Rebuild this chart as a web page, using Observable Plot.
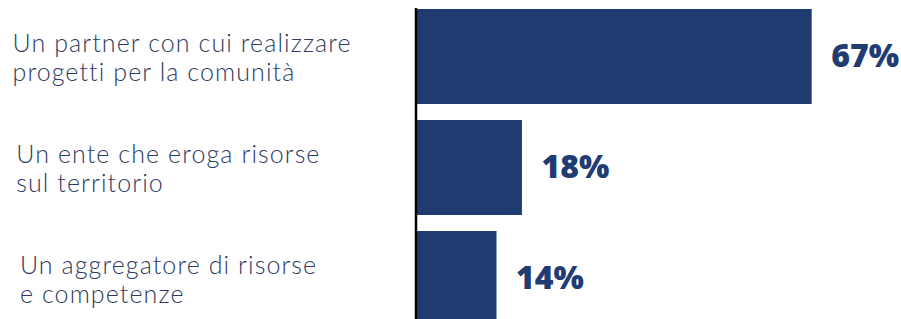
<!DOCTYPE html>
<html>
<head>
<meta charset="utf-8">
<script src="https://cdn.jsdelivr.net/npm/d3@7"></script>
<script src="https://cdn.jsdelivr.net/npm/@observablehq/plot@0.6"></script>
<style>
  html, body { margin: 0; padding: 0; background: #ffffff; }
  #chart svg { display: block; }
  #chart text { font-variant-ligatures: none; font-feature-settings: "liga" 0; }
  #chart g.cat-label text { letter-spacing: 1.1px; }
</style>
</head>
<body>
<div id="chart"></div>
<script>
const categories = [
  "Un partner con cui realizzare\nprogetti per la comunità",
  "Un ente che eroga risorse\nsul territorio",
  "Un aggregatore di risorse\ne competenze"
];
const values = [67, 18, 13.7];
const valueLabels = ["67%", "18%", "14%"];

const data = categories.map((c, i) => ({category: c, value: values[i], label: valueLabels[i]}));

const barColor = "#1f3c70";
const labelColor = "#2d3b62";

const chart = Plot.plot({
  width: 901,
  height: 319,
  marginLeft: 0,
  marginRight: 0,
  marginTop: 0,
  marginBottom: 0,
  x: {domain: [0, 67], range: [415.5, 811.7], axis: null},
  y: {domain: categories, range: [8, 327.5], paddingInner: 0.147, paddingOuter: 0, axis: null},
  marks: [
    Plot.barX(data, {x: "value", y: "category", fill: barColor, insetLeft: 1.5}),
    Plot.ruleX([0], {stroke: "#000000", strokeWidth: 2.5, insetTop: 8}),
    Plot.text(data, {
      x: "value", y: "category", text: "label",
      textAnchor: "start", dx: 19,
      fill: "#1f3d73", fontSize: 32, fontWeight: 800,
      fontFamily: "'Open Sans', sans-serif"
    }),
    ...data.map((d, i) => Plot.text([d], {
      y: "category", text: "category",
      frameAnchor: "left", textAnchor: "start", lineAnchor: "middle",
      dx: 12 + 3.7 * i,
      lineHeight: 1.17,
      className: "cat-label",
      fill: labelColor, fontSize: 25, fontWeight: 300,
      fontFamily: "Lato, sans-serif"
    }))
  ]
});
document.getElementById("chart").appendChild(chart);
</script>
</body>
</html>
